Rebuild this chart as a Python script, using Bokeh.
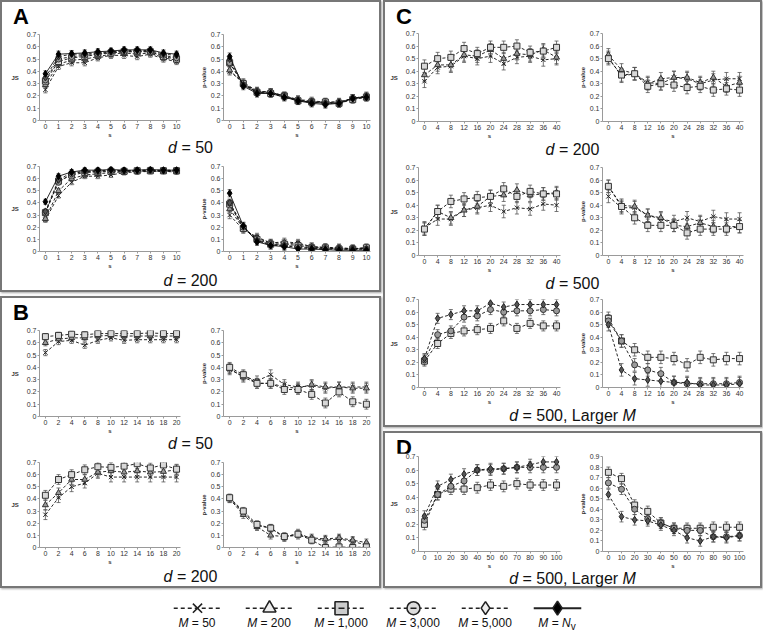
from bokeh.plotting import figure
from bokeh.layouts import column, row
from bokeh.models import Div, Range1d, FixedTicker, Whisker, ColumnDataSource, Spacer, FactorRange, TeeHead
from bokeh.transform import dodge
from bokeh.embed import file_html
from bokeh.resources import INLINE

FONT = "Liberation Sans"

# ---------------- data ----------------
M_KEYS = ["50", "200", "1000", "3000", "5000", "Nv"]
LEGEND_LABELS = ["<i>M</i> = 50", "<i>M</i> = 200", "<i>M</i> = 1,000", "<i>M</i> = 3,000",
                 "<i>M</i> = 5,000", "<i>M</i> = <i>N</i><sub>v</sub>"]

s_A = [0, 1, 2, 3, 4, 5, 6, 7, 8, 9, 10]
s_B = [0, 2, 4, 6, 8, 10, 12, 14, 16, 18, 20]
s_C = [0, 4, 8, 12, 16, 20, 24, 28, 32, 36, 40]
s_D = [0, 10, 20, 30, 40, 50, 60, 70, 80, 90, 100]
ticks_07 = [0, 0.1, 0.2, 0.3, 0.4, 0.5, 0.6, 0.7]
ticks_09 = [0, 0.1, 0.2, 0.3, 0.4, 0.5, 0.6, 0.7, 0.8, 0.9]

# Panel A, d = 50
A_d50_js = {
    "50":   [0.25, 0.44, 0.47, 0.47, 0.51, 0.53, 0.53, 0.52, 0.54, 0.50, 0.48],
    "200":  [0.29, 0.46, 0.49, 0.50, 0.52, 0.54, 0.55, 0.54, 0.55, 0.51, 0.49],
    "1000": [0.32, 0.48, 0.51, 0.52, 0.54, 0.55, 0.56, 0.56, 0.56, 0.52, 0.50],
    "3000": [0.33, 0.50, 0.52, 0.53, 0.54, 0.56, 0.56, 0.56, 0.56, 0.53, 0.51],
    "5000": [0.35, 0.52, 0.54, 0.54, 0.55, 0.56, 0.57, 0.57, 0.57, 0.54, 0.53],
    "Nv":   [0.38, 0.54, 0.545, 0.55, 0.56, 0.565, 0.575, 0.575, 0.575, 0.55, 0.54],
}
A_d50_pv = {
    "50":   [0.40, 0.31, 0.24, 0.23, 0.20, 0.17, 0.16, 0.15, 0.15, 0.18, 0.20],
    "200":  [0.41, 0.30, 0.24, 0.23, 0.20, 0.17, 0.15, 0.15, 0.15, 0.18, 0.20],
    "1000": [0.47, 0.30, 0.23, 0.22, 0.20, 0.16, 0.15, 0.15, 0.14, 0.17, 0.19],
    "3000": [0.47, 0.29, 0.23, 0.23, 0.20, 0.16, 0.15, 0.14, 0.14, 0.18, 0.19],
    "5000": [0.50, 0.29, 0.23, 0.22, 0.19, 0.16, 0.15, 0.14, 0.14, 0.18, 0.19],
    "Nv":   [0.52, 0.28, 0.22, 0.22, 0.19, 0.16, 0.14, 0.13, 0.14, 0.18, 0.19],
}
# Panel A, d = 200
A_d200_js = {
    "50":   [0.26, 0.46, 0.57, 0.62, 0.62, 0.63, 0.65, 0.655, 0.66, 0.66, 0.655],
    "200":  [0.27, 0.50, 0.60, 0.63, 0.64, 0.65, 0.655, 0.66, 0.66, 0.66, 0.66],
    "1000": [0.32, 0.58, 0.63, 0.65, 0.655, 0.66, 0.66, 0.665, 0.665, 0.665, 0.665],
    "3000": [0.32, 0.57, 0.64, 0.66, 0.66, 0.665, 0.665, 0.665, 0.67, 0.665, 0.665],
    "5000": [0.33, 0.59, 0.65, 0.66, 0.665, 0.67, 0.665, 0.67, 0.67, 0.67, 0.67],
    "Nv":   [0.41, 0.62, 0.655, 0.67, 0.67, 0.675, 0.67, 0.67, 0.675, 0.67, 0.67],
}
A_d200_pv = {
    "50":   [0.30, 0.18, 0.12, 0.07, 0.08, 0.07, 0.04, 0.035, 0.03, 0.025, 0.03],
    "200":  [0.35, 0.19, 0.11, 0.07, 0.07, 0.06, 0.04, 0.03, 0.03, 0.02, 0.03],
    "1000": [0.39, 0.19, 0.10, 0.06, 0.06, 0.05, 0.03, 0.03, 0.02, 0.02, 0.03],
    "3000": [0.40, 0.20, 0.09, 0.06, 0.05, 0.04, 0.03, 0.025, 0.02, 0.02, 0.02],
    "5000": [0.40, 0.21, 0.09, 0.05, 0.05, 0.03, 0.025, 0.02, 0.02, 0.02, 0.02],
    "Nv":   [0.48, 0.21, 0.08, 0.05, 0.04, 0.02, 0.02, 0.015, 0.01, 0.01, 0.01],
}
# Panel B, d = 50
B_d50_js = {
    "50":   [0.52, 0.61, 0.62, 0.58, 0.62, 0.64, 0.62, 0.625, 0.625, 0.625, 0.625],
    "200":  [0.60, 0.63, 0.64, 0.64, 0.655, 0.66, 0.655, 0.655, 0.655, 0.655, 0.655],
    "1000": [0.65, 0.66, 0.67, 0.665, 0.675, 0.675, 0.675, 0.675, 0.68, 0.675, 0.675],
}
B_d50_pv = {
    "50":   [0.38, 0.33, 0.29, 0.34, 0.26, 0.24, 0.25, 0.23, 0.24, 0.24, 0.24],
    "200":  [0.39, 0.32, 0.27, 0.27, 0.24, 0.23, 0.26, 0.24, 0.24, 0.23, 0.23],
    "1000": [0.40, 0.34, 0.27, 0.27, 0.22, 0.22, 0.18, 0.11, 0.20, 0.12, 0.10],
}
# Panel B, d = 200
B_d200_js = {
    "50":   [0.27, 0.41, 0.50, 0.53, 0.61, 0.58, 0.58, 0.58, 0.58, 0.58, 0.58],
    "200":  [0.35, 0.45, 0.56, 0.56, 0.62, 0.63, 0.62, 0.63, 0.62, 0.625, 0.64],
    "1000": [0.43, 0.56, 0.60, 0.64, 0.665, 0.66, 0.67, 0.69, 0.655, 0.68, 0.645],
}
B_d200_pv = {
    "50":   [0.40, 0.29, 0.18, 0.16, 0.08, 0.12, 0.07, 0.06, 0.07, 0.05, 0.02],
    "200":  [0.40, 0.27, 0.17, 0.10, 0.09, 0.10, 0.08, 0.07, 0.08, 0.06, 0.04],
    "1000": [0.41, 0.30, 0.19, 0.16, 0.09, 0.11, 0.06, 0.00, 0.005, 0.00, 0.005],
}
# Panel C, d = 200
C_d200_js = {
    "50":   [0.32, 0.43, 0.44, 0.52, 0.50, 0.52, 0.46, 0.51, 0.52, 0.49, 0.50],
    "200":  [0.37, 0.45, 0.45, 0.53, 0.52, 0.57, 0.50, 0.54, 0.53, 0.57, 0.51],
    "1000": [0.44, 0.50, 0.51, 0.58, 0.54, 0.59, 0.59, 0.60, 0.55, 0.56, 0.59],
}
C_d200_pv = {
    "50":   [0.51, 0.36, 0.38, 0.31, 0.30, 0.35, 0.34, 0.30, 0.33, 0.34, 0.34],
    "200":  [0.53, 0.41, 0.38, 0.30, 0.34, 0.35, 0.35, 0.31, 0.35, 0.28, 0.31],
    "1000": [0.50, 0.37, 0.38, 0.28, 0.30, 0.29, 0.27, 0.28, 0.25, 0.26, 0.25],
}
# Panel C, d = 500
C_d500_js = {
    "50":   [0.22, 0.29, 0.29, 0.36, 0.38, 0.40, 0.35, 0.38, 0.37, 0.41, 0.40],
    "200":  [0.21, 0.35, 0.30, 0.36, 0.39, 0.47, 0.48, 0.52, 0.48, 0.49, 0.50],
    "1000": [0.21, 0.35, 0.43, 0.45, 0.46, 0.47, 0.53, 0.47, 0.51, 0.49, 0.49],
}
C_d500_pv = {
    "50":   [0.47, 0.38, 0.38, 0.32, 0.29, 0.27, 0.30, 0.27, 0.31, 0.29, 0.29],
    "200":  [0.55, 0.40, 0.39, 0.32, 0.30, 0.24, 0.23, 0.26, 0.23, 0.23, 0.23],
    "1000": [0.55, 0.39, 0.30, 0.24, 0.24, 0.24, 0.18, 0.21, 0.21, 0.21, 0.23],
}
# Panel C, d = 500, larger M
C_big_js = {
    "1000": [0.21, 0.35, 0.43, 0.45, 0.46, 0.47, 0.53, 0.47, 0.51, 0.49, 0.49],
    "3000": [0.22, 0.42, 0.45, 0.56, 0.57, 0.62, 0.60, 0.61, 0.61, 0.62, 0.61],
    "5000": [0.23, 0.55, 0.58, 0.61, 0.61, 0.67, 0.64, 0.66, 0.66, 0.66, 0.66],
}
C_big_pv = {
    "1000": [0.55, 0.37, 0.30, 0.24, 0.24, 0.23, 0.18, 0.24, 0.22, 0.23, 0.23],
    "3000": [0.53, 0.37, 0.18, 0.14, 0.11, 0.04, 0.03, 0.03, 0.03, 0.03, 0.04],
    "5000": [0.50, 0.14, 0.07, 0.06, 0.05, 0.04, 0.04, 0.02, 0.02, 0.02, 0.03],
}
# Panel D, d = 500, larger M
D_big_js = {
    "1000": [0.20, 0.42, 0.46, 0.46, 0.47, 0.49, 0.48, 0.50, 0.49, 0.49, 0.49],
    "3000": [0.23, 0.42, 0.48, 0.52, 0.60, 0.60, 0.61, 0.62, 0.62, 0.62, 0.62],
    "5000": [0.26, 0.48, 0.53, 0.57, 0.60, 0.61, 0.61, 0.62, 0.64, 0.66, 0.66],
}
D_big_pv = {
    "1000": [0.75, 0.69, 0.44, 0.38, 0.27, 0.22, 0.22, 0.22, 0.23, 0.23, 0.23],
    "3000": [0.65, 0.59, 0.40, 0.31, 0.27, 0.22, 0.20, 0.20, 0.14, 0.14, 0.15],
    "5000": [0.54, 0.33, 0.30, 0.29, 0.25, 0.20, 0.13, 0.10, 0.14, 0.13, 0.15],
}
# error-bar half widths (one per subplot)
ERR = {"A_d50_js": 0.025, "A_d50_pv": 0.03, "A_d200_js": 0.02, "A_d200_pv": 0.03,
       "B_d50_js": 0.025, "B_d50_pv": 0.04, "B_d200_js": 0.04, "B_d200_pv": 0.03,
       "C_d200_js": 0.05, "C_d200_pv": 0.05, "C_d500_js": 0.05, "C_d500_pv": 0.05,
       "C_big_js": 0.04, "C_big_pv": 0.05, "D_big_js": 0.04, "D_big_pv": 0.05}

# ---------------- styles ----------------
STYLE = {
    "50":   dict(marker="x", fill="#222222", line="#222222", dash="3 2", size=6),
    "200":  dict(marker="triangle", fill="#9a9a9a", line="#333333", dash="3 2", size=6),
    "1000": dict(marker="square", fill="#d8d8d8", line="#333333", dash="3 2", size=6),
    "3000": dict(marker="circle", fill="#9a9a9a", line="#333333", dash="3 2", size=6),
    "5000": dict(marker="diamond", fill="#555555", line="#222222", dash="3 2", size=7),
    "Nv":   dict(marker="diamond", fill="#000000", line="#000000", dash="solid", size=7),
}
PANEL_STYLE = {"border": "2px solid #777777", "box-shadow": "1px 1px 2px rgba(0,0,0,0.35)",
               "background-color": "white"}


def sub(xs, ydict, err, ylabel, step, top, fh, left, right, width=188,
        ymax=0.7, yticks=ticks_07, bottom=18):
    p = figure(width=width, height=top + fh + bottom,
               x_range=Range1d(-0.45 * step, 10.3 * step), y_range=Range1d(0, ymax),
               output_backend="svg", toolbar_location=None,
               min_border_top=top, min_border_bottom=bottom,
               min_border_left=left, min_border_right=right)
    p.outline_line_color = None
    p.grid.visible = False
    p.xaxis.ticker = FixedTicker(ticks=xs)
    p.yaxis.ticker = FixedTicker(ticks=yticks)
    p.yaxis.major_label_overrides = {0: "0"}
    for ax in (p.xaxis[0], p.yaxis[0]):
        ax.axis_line_color = "#9a9a9a"
        ax.major_tick_line_color = "#9a9a9a"
        ax.minor_tick_line_color = None
        ax.major_tick_in = 0
        ax.major_tick_out = 2
        ax.major_label_standoff = 1
        ax.major_label_text_font = FONT
        ax.major_label_text_font_size = "7px"
        ax.major_label_text_color = "#333333"
        ax.axis_label_text_font = FONT
        ax.axis_label_text_font_size = "6px"
        ax.axis_label_text_font_style = "bold"
        ax.axis_label_text_color = "#333333"
        ax.axis_label_standoff = 1
    p.xaxis.axis_label = "s"
    p.xaxis.axis_label_standoff = 0
    p.yaxis.axis_label = ylabel
    if ylabel == "JS":
        p.yaxis.axis_label_orientation = "horizontal"
        p.yaxis.axis_label_standoff = 5
    for k, ys in ydict.items():
        st = STYLE[k]
        src = ColumnDataSource(dict(x=xs, y=ys,
                                    lo=[v - err for v in ys], hi=[v + err for v in ys]))
        p.line("x", "y", source=src, line_color="#111111", line_width=0.9, line_dash=st["dash"])
        w = Whisker(base="x", lower="lo", upper="hi", source=src, line_color="#555555",
                    line_width=0.8, level="underlay",
                    upper_head=TeeHead(size=4, line_color="#555555", line_width=0.8),
                    lower_head=TeeHead(size=4, line_color="#555555", line_width=0.8))
        p.add_layout(w)
        p.scatter("x", "y", source=src, marker=st["marker"], size=st["size"],
                  fill_color=st["fill"], line_color=st["line"], line_width=1.0)
    return p


def div_text(html, height, width, size=16):
    return Div(text=html, width=width, height=height, margin=0,
               styles={"font-family": FONT, "font-size": f"{size}px", "text-align": "center",
                       "line-height": f"{height}px", "color": "#111111"})


def letter(ch, height, width):
    return Div(text=f'<div style="margin-left:11px;margin-top:4px;font-weight:bold;'
                    f'font-size:22px;line-height:22px;font-family:{FONT}">{ch}</div>',
               width=width, height=height, margin=0)


# ---------------- panels ----------------
LIN = 377   # inner width of left panels
RIN = 375   # inner width of right panels


def left_pair(xs, djs, dpv, ejs, epv, step, top, fh):
    return row(sub(xs, djs, ejs, "JS", step, top, fh, 37, 10, width=188),
               sub(xs, dpv, epv, "p-value", step, top, fh, 33, 9, width=189))


def right_pair(xs, djs, dpv, ejs, epv, step, top, fh, pv_ymax=0.7, pv_ticks=ticks_07):
    return row(sub(xs, djs, ejs, "JS", step, top, fh, 33, 13, width=188),
               sub(xs, dpv, epv, "p-value", step, top, fh, 29, 17, width=187,
                   ymax=pv_ymax, yticks=pv_ticks))


panelA = column(
    letter("A", 27, LIN),
    left_pair(s_A, A_d50_js, A_d50_pv, ERR["A_d50_js"], ERR["A_d50_pv"], 1, 5, 88),
    div_text("<i>d</i> = 50", 16, LIN),
    left_pair(s_A, A_d200_js, A_d200_pv, ERR["A_d200_js"], ERR["A_d200_pv"], 1, 10, 87),
    div_text("<i>d</i> = 200", 19, LIN),
    styles=PANEL_STYLE)

panelB = column(
    letter("B", 27, LIN),
    left_pair(s_B, B_d50_js, B_d50_pv, ERR["B_d50_js"], ERR["B_d50_pv"], 2, 5, 88),
    div_text("<i>d</i> = 50", 16, LIN),
    left_pair(s_B, B_d200_js, B_d200_pv, ERR["B_d200_js"], ERR["B_d200_pv"], 2, 10, 87),
    div_text("<i>d</i> = 200", 19, LIN),
    styles=PANEL_STYLE)

panelC = column(
    letter("C", 26, RIN),
    right_pair(s_C, C_d200_js, C_d200_pv, ERR["C_d200_js"], ERR["C_d200_pv"], 4, 5, 90),
    div_text("<i>d</i> = 200", 18, RIN),
    right_pair(s_C, C_d500_js, C_d500_pv, ERR["C_d500_js"], ERR["C_d500_pv"], 4, 8, 90),
    div_text("<i>d</i> = 500", 17, RIN),
    right_pair(s_C, C_big_js, C_big_pv, ERR["C_big_js"], ERR["C_big_pv"], 4, 7, 90),
    div_text("<i>d</i> = 500, Larger <i>M</i>", 18, RIN),
    styles=PANEL_STYLE)

panelD = column(
    letter("D", 20, RIN),
    right_pair(s_D, D_big_js, D_big_pv, ERR["D_big_js"], ERR["D_big_pv"], 10, 3, 97,
               pv_ymax=0.9, pv_ticks=ticks_09),
    div_text("<i>d</i> = 500, Larger <i>M</i>", 15, RIN),
    styles=PANEL_STYLE)

left_col = column(panelA, panelB, spacing=4)
right_col = column(panelC, panelD, spacing=4)
panels = row(left_col, right_col, spacing=2)

# ---------------- legend ----------------
leg = figure(width=432, height=26, x_range=FactorRange(factors=M_KEYS), y_range=Range1d(0, 1),
             output_backend="svg", toolbar_location=None, min_border=0,
             x_axis_location=None, y_axis_location=None)
leg.outline_line_color = None
leg.grid.visible = False
LEG_FILL = {"50": "#000000", "200": "#eeeeee", "1000": "#cccccc", "3000": "#dddddd",
            "5000": "#eeeeee", "Nv": "#000000"}
for k in M_KEYS:
    st = STYLE[k]
    src = ColumnDataSource(dict(k=[k], y=[0.32]))
    leg.segment(x0=dodge("k", -0.33, range=leg.x_range), y0="y",
                x1=dodge("k", 0.33, range=leg.x_range), y1="y", source=src,
                line_color="#222222", line_width=2 if k == "Nv" else 1.6,
                line_dash="solid" if k == "Nv" else "4 3")
    leg.scatter("k", "y", source=src, marker=st["marker"], size=13 if k != "Nv" else 14,
                fill_color=LEG_FILL[k], line_color="#222222", line_width=1.6)
    if k in ("1000", "3000"):
        leg.scatter("k", "y", source=src, marker="dash", size=6, line_color="#222222", line_width=1.4)

leg_labels = Div(text='<div style="display:flex">' + "".join(
    f'<div style="width:72px;text-align:center">{t}</div>' for t in LEGEND_LABELS) + "</div>",
    width=432, height=14, margin=0,
    styles={"font-family": FONT, "font-size": "12px", "line-height": "14px", "color": "#111111"})

legend = column(row(Spacer(width=161, height=26), leg),
                row(Spacer(width=161, height=14), leg_labels))

page = column(panels, legend, spacing=2)

open("out.html", "w").write(file_html(page, INLINE))
